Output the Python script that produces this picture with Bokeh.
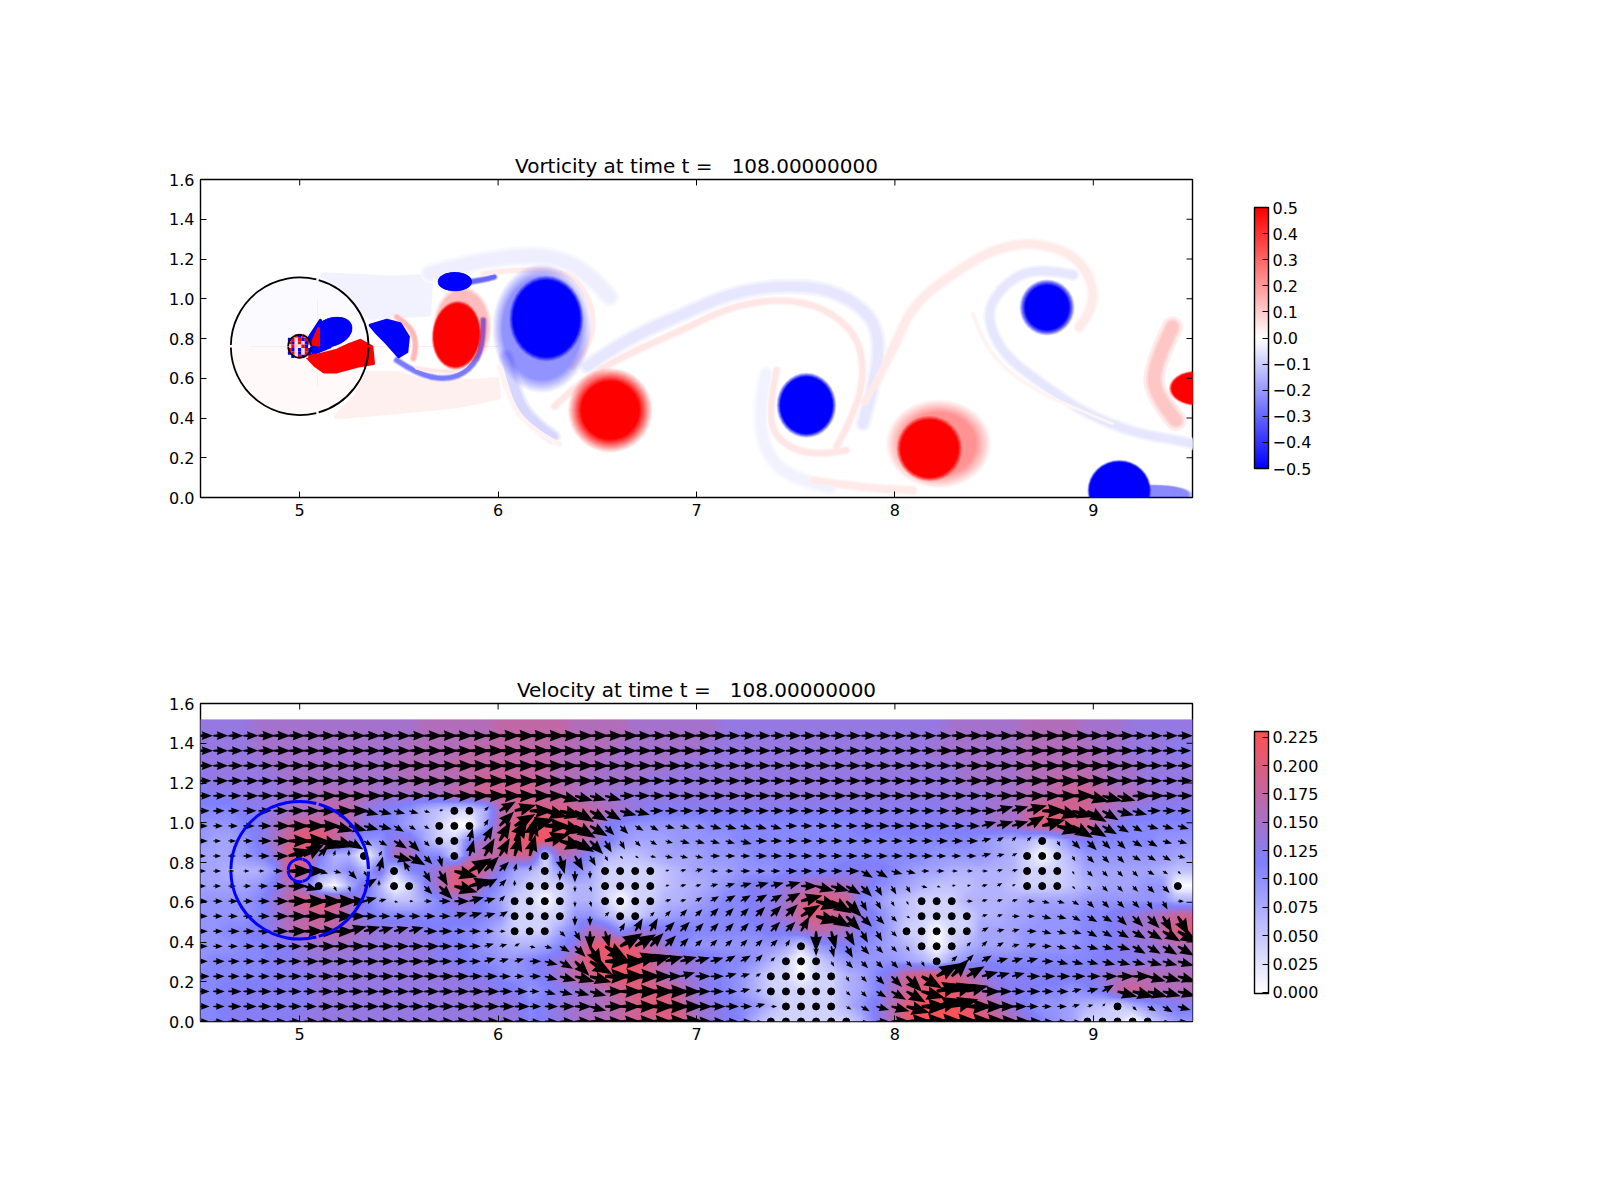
import numpy as np
from bokeh.embed import file_html
from bokeh.layouts import column
from bokeh.models import ColorBar, FixedTicker, LinearColorMapper, Range1d
from bokeh.plotting import figure
from bokeh.resources import INLINE

FONT = "DejaVu Sans"
x_ticks = [5, 6, 7, 8, 9]
y_ticks = [0.0, 0.2, 0.4, 0.6, 0.8, 1.0, 1.2, 1.4, 1.6]
vort_ticks = [-0.5, -0.4, -0.3, -0.2, -0.1, 0.0, 0.1, 0.2, 0.3, 0.4, 0.5]
vel_ticks = [0.0, 0.025, 0.05, 0.075, 0.1, 0.125, 0.15, 0.175, 0.2, 0.225]
vort_title = "Vorticity at time t =\u00a0\u00a0\u00a0108.00000000"
vel_title = "Velocity at time t =\u00a0\u00a0\u00a0108.00000000"

# cylinder and the outer circle around it
circle_x = 5.0
circle_y = 0.761
circle_radii = [0.347, 0.058]

# vortex blobs, drawn in this order: x, y, half width, half height, tilt, peak, fade scale
vortex_x = [6.22, 8.22, 5.82, 8.767, 7.554, 9.31, 6.243, 6.565, 5.79, 5.782, 5.163, 7.554, 8.174, 8.767, 9.131, 9.52]
vortex_y = [0.85, 0.27, 0.86, 0.956, 0.464, 0.015, 0.9, 0.439, 0.817, 1.086, 0.833, 0.464, 0.246, 0.956, 0.036, 0.55]
vortex_rx = [0.2, 0.19, 0.13, 0.125, 0.14, 0.17, 0.168, 0.147, 0.114, 0.084, 0.104, 0.131, 0.145, 0.11, 0.15, 0.125]
vortex_ry = [0.26, 0.16, 0.18, 0.125, 0.15, 0.045, 0.193, 0.147, 0.159, 0.047, 0.07, 0.143, 0.145, 0.113, 0.143, 0.08]
vortex_tilt = [0, 0, 0, 0, 0, 0, 0, 0, -5, 0, 20, 0, 0, 0, 0, 0]
vortex_peak = [-0.2, 0.2, 0.12, -0.1, -0.06, -0.22, -0.5, 0.5, 0.5, -0.5, -0.5, -0.5, 0.5, -0.5, -0.5, 0.5]
vortex_fade = [1.25, 1.4, 1.15, 1.15, 1.12, 1.15, 1.12, 1.45, 1.1, 1.04, 1.03, 1.15, 1.15, 1.25, 1.08, 1.12]

# thin filaments: control points, value and width in px
stream_x = [
    [6.45, 6.63, 6.96, 7.168, 7.419, 7.671, 7.856, 7.923, 7.906, 7.839],
    [6.285, 6.427, 6.628, 6.963, 7.168, 7.419, 7.638, 7.805, 7.847, 7.805, 7.705],
    [7.403, 7.361, 7.403, 7.587, 7.755],
    [7.35, 7.31, 7.352, 7.503, 7.671],
    [7.587, 7.839, 8.09],
    [7.85, 7.99, 8.091, 8.342, 8.51, 8.695, 8.896, 8.997, 8.997, 8.93],
    [8.9, 8.745, 8.594, 8.477, 8.477, 8.56, 8.762, 8.963, 9.215, 9.433, 9.5],
    [8.393, 8.443, 8.594, 8.846, 9.097],
    [9.399, 9.299, 9.316, 9.416],
    [6.042, 6.084, 6.176, 6.276],
    [6.01, 6.06, 6.19, 6.31],
    [5.657, 5.874, 6.126, 6.293, 6.461, 6.561],
    [5.925, 6.126, 6.36, 6.444, 6.486, 6.461, 6.377],
    [5.489, 5.589, 5.74, 5.858, 5.925, 5.925],
    [5.589, 5.74, 5.85, 5.89],
    [5.489, 5.565, 5.59, 5.573],
    [5.86, 5.93, 5.98],
]
stream_y = [
    [0.66, 0.79, 0.935, 1.026, 1.068, 1.051, 0.942, 0.808, 0.607, 0.372],
    [0.459, 0.593, 0.71, 0.859, 0.959, 1.001, 0.959, 0.825, 0.64, 0.439, 0.254],
    [0.64, 0.439, 0.288, 0.204, 0.238],
    [0.62, 0.439, 0.204, 0.087, 0.053],
    [0.087, 0.045, 0.036],
    [0.48, 0.741, 0.976, 1.16, 1.253, 1.286, 1.228, 1.093, 0.942, 0.858],
    [1.12, 1.152, 1.11, 0.976, 0.858, 0.707, 0.556, 0.422, 0.322, 0.288, 0.27],
    [0.926, 0.775, 0.607, 0.472, 0.372],
    [0.858, 0.657, 0.506, 0.389],
    [0.707, 0.506, 0.372, 0.305],
    [0.66, 0.47, 0.33, 0.27],
    [1.127, 1.186, 1.219, 1.21, 1.127, 1.009],
    [1.127, 1.152, 1.135, 1.026, 0.909, 0.758, 0.657],
    [0.691, 0.623, 0.59, 0.64, 0.758, 0.892],
    [0.65, 0.625, 0.66, 0.75],
    [0.909, 0.858, 0.758, 0.699],
    [1.085, 1.095, 1.11],
]
stream_value = [-0.05, 0.05, 0.05, -0.025, 0.04, 0.04, -0.05, 0.02, 0.11,
                -0.08, 0.025, -0.035, 0.04, -0.26, 0.05, 0.14, -0.3]
stream_width = [9, 5, 5, 9, 6, 7, 7, 3, 12, 9, 4, 11, 4, 4, 3, 4, 4]

# pale wakes behind the cylinder and saturated patches next to it
patch_x = [
    [5.121, 5.456, 5.657, 5.648, 5.355, 5.288, 5.221],
    [5.338, 5.489, 5.657, 5.874, 5.992, 6.0, 5.791, 5.456, 5.188, 5.288],
    [5.355, 5.439, 5.506, 5.548, 5.54, 5.499, 5.44, 5.39],
    [5.037, 5.104, 5.154, 5.07],
    [5.028, 5.075, 5.121, 5.188, 5.29, 5.372, 5.364, 5.305, 5.25, 5.188, 5.087],
    [5.062, 5.095, 5.095],
]
patch_y = [
    [1.118, 1.102, 1.11, 0.926, 0.909, 0.959, 1.06],
    [0.623, 0.623, 0.573, 0.582, 0.59, 0.506, 0.464, 0.431, 0.409, 0.506],
    [0.867, 0.892, 0.875, 0.808, 0.733, 0.708, 0.775, 0.825],
    [0.79, 0.892, 0.758, 0.724],
    [0.716, 0.665, 0.632, 0.632, 0.66, 0.674, 0.758, 0.791, 0.77, 0.741, 0.716],
    [0.774, 0.85, 0.766],
]
patch_value = [-0.025, 0.03, -0.5, -0.5, 0.5, 0.5]

# scrambled cells inside the cylinder: r red, b blue, w pale, . nothing
cell_rows = [".wrbrw.", "brwrbrb", "rbwrwbr", "wrwwrbw", "rbwbwrb", "brwbwrb", ".bwrbw."]

# velocity on the quiver grid, one hex digit per point in steps of 0.015, top row first
speed_rows = [
    "88889999999 9999aaaaabb bbbaaaa9999 99888888888 88888899999 aaaa9998888",
    "88889999999 999aaaabbbb bbaaaa99999 98888888888 88888999999 aaaaa998887",
    "88888999999 99aaaabbbbb bbaaa999998 88888888888 88888889999 aaaaaa99888",
    "78888899999 999aaaabccc cbaa9999888 88888888888 88888889999 aabbba99888",
    "77788899aaa a99999bbccc cbba9988888 88888888888 88888888899 aabccbaa988",
    "66677899abb 876532003ac dddcba98777 77777777777 77777788899 bddcca98777",
    "555679bccba 876430004bd eeedb765555 56666666666 77777777899 bdedc976666",
    "544579ceec9 558840079ce eeeca754445 55566666666 66666666543 30367666655",
    "444568dd733 03aa6609bbc c0a96322344 45556666666 66666555543 00035555554",
    "443335dc546 380679deb74 30564000023 44455566667 77654433333 00024444432",
    "444457a8033 83006add853 00033000023 34567789aa9 86543222332 00023444550",
    "555568bddda 74224688640 00033000033 4566779cedc 65320003333 44445555553",
    "555568abcb9 76666677650 00055300345 5666789cdcb 86420000334 455566789ac",
    "556678abbba 98887766530 0046a958877 66666779ba9 76400000444 555566789bd",
    "55566778999 88888776543 3468deeda86 55555540567 65430003444 5555667889a",
    "56666778888 88888776655 678beeeeca9 87665300035 55543045666 66666777889",
    "66666777888 88888887765 679bceeec98 87653000003 468cdedb977 7777789aaaa",
    "66777777888 88888888877 56789acdddb 87653000003 469cdfeca87 766567bcbaa",
    "66777777888 88888888888 67899abcddc 98765300003 57adfffeca8 65543203567",
    "66777778888 88888888888 6789aabccdd 98763000000 37aeffffeca 86540000035",
]
# arrow direction: 0 east, 1-9 up in 15 degree steps, a-i down in 15 degree steps
Z = "00000000000"
angle_rows = [
    f"{Z} {Z} {Z} {Z} {Z} {Z}",
    f"{Z} {Z} {Z} {Z} {Z} {Z}",
    f"{Z} {Z} {Z} {Z} {Z} {Z}",
    f"{Z} {Z} {Z} {Z} {Z} {Z}",
    f"{Z} {Z} 00aaaa00000 {Z} {Z} 0000aaa0000",
    f"{Z} aaaaa100321 0aabbbaa000 {Z} 00000000011 10aabbaa000",
    "000000000aa aabbb000432 10abbccbbaa aaaaaa00000 00000000111 21abbbbbaaa",
    "00000000aab bbbcc005444 51abcddcbaa aaaa0000000 00000000123 30dccccbbaa",
    "00000012356 04abce05445 50edddcbaaa a0000000000 00000000112 000dcccbbba",
    "00000000aac d508dda2335 50fff000011 10000000000 bbaa0000011 000dccccbbc",
    "0000000a0de 2600cca1236 000fe000011 11111110aab cdddaa11122 000ccccccc0",
    f"{Z} 11a00001130 000fe000011 22222221abc dddd0000111 0aabccccdd0",
    f"{Z} 00000011120 000ff300333 33333332abc cccb0000110 0aabbbcccdd",
    "00000000001 11110000000 00cdfe44433 33333334fed ddc00000211 0aaabbbbbbb",
    f"{Z} 00000000112 aabcdb22333 33333340fed cccd0003321 10aaaaabbbb",
    f"{Z} 00000000111 0abcb001111 112233000dc ccccd033211 10aaaaaaaaa",
    f"{Z} {Z} 0aaaa000001 0011200000d ccccb232111 00000000aaa",
    f"{Z} {Z} 0aaaa000000 0001100000c cbbba111000 000112aaaaa",
    f"{Z} {Z} 0000a000000 000010000ab baaa0110000 0001130cbba",
    f"{Z} {Z} {Z} {Z} {Z} {Z}",
]
# grid points (column, row) where the background goes fully white
white_k = [17, 18, 23, 28, 40, 40, 49, 49, 56, 13, 9, 11, 62, 65]
white_r = [6, 6, 11, 11, 15, 16, 13, 14, 8, 10, 10, 8, 19, 10]

GRID_X0, GRID_DX, GRID_DY = 4.488, 0.07597, 0.0757
SPEED_STEP = 0.015
ANGLE_CODE = {"0": 0}
for i, c in enumerate("123456789"):
    ANGLE_CODE[c] = 15 * (i + 1)
for i, c in enumerate("abcdefghi"):
    ANGLE_CODE[c] = -15 * (i + 1)


def ramp(stops, n=256):
    # colormap between hex stops
    rgb = [[int(s[i:i + 2], 16) for i in (1, 3, 5)] for s in stops]
    pos = np.linspace(0, len(stops) - 1, n)
    out = []
    for t in pos:
        i = min(int(t), len(stops) - 2)
        f = t - i
        out.append("#%02x%02x%02x" % tuple(int(round(rgb[i][k] * (1 - f) + rgb[i + 1][k] * f)) for k in range(3)))
    return out


vort_palette = ramp(["#0000ff", "#ffffff", "#ff0000"])
vel_palette = ramp(["#ffffff", "#8080ff", "#ff5050"])


def vort_color(v):
    return vort_palette[int(round((max(-0.5, min(0.5, v)) + 0.5) * 255))]


def make_figure(title, top_border, bottom_border):
    p = figure(width=1400, height=top_border + 318 + bottom_border, frame_width=992, frame_height=318,
               x_range=Range1d(4.5, 9.5), y_range=Range1d(0, 1.6), output_backend="svg",
               toolbar_location=None, title=title, min_border_left=200, min_border_right=208,
               min_border_top=top_border, min_border_bottom=bottom_border)
    p.title.align = "center"
    p.title.text_font = FONT
    p.title.text_font_size = "20px"
    p.title.text_font_style = "normal"
    p.title.text_color = "black"
    p.title.standoff = 3
    p.grid.visible = False
    p.outline_line_color = "black"
    p.outline_line_width = 1.4
    p.xaxis.ticker = FixedTicker(ticks=x_ticks)
    p.yaxis.ticker = FixedTicker(ticks=y_ticks)
    p.yaxis.major_label_overrides = {v: "%.1f" % v for v in y_ticks}
    for ax in p.xaxis + p.yaxis:
        ax.axis_line_color = None
        ax.major_tick_in = 6
        ax.major_tick_out = 0
        ax.major_tick_line_color = "black"
        ax.major_tick_line_width = 1
        ax.minor_tick_line_color = None
        ax.major_label_text_font = FONT
        ax.major_label_text_font_size = "16px"
        ax.major_label_text_color = "black"
        ax.major_label_standoff = 6
    return p


def add_mirror_ticks(p):
    # ticks on the top and right spines too
    n_x, n_y = len(x_ticks), len(y_ticks)
    p.segment(x0=x_ticks, y0=[1.6] * n_x, x1=x_ticks, y1=[1.57] * n_x, line_color="black", line_width=1)
    p.segment(x0=[9.5] * n_y, y0=y_ticks, x1=[9.47] * n_y, y1=y_ticks, line_color="black", line_width=1)


def add_circles(p, color, width):
    gaps = [(1, 74), (76, 179), (181, 284), (286, 359)]
    for r in circle_radii:
        for a0, a1 in gaps:
            p.arc(x=circle_x, y=circle_y, radius=r, start_angle=np.radians(a0), end_angle=np.radians(a1),
                  line_color=color, line_width=width)


def add_colorbar(p, mapper, ticks, labels, y, height):
    bar = ColorBar(color_mapper=mapper, ticker=FixedTicker(ticks=ticks), major_label_overrides=labels,
                   location=(1054, y), width=14, height=height, padding=0, margin=0, label_standoff=4,
                   major_tick_in=6, major_tick_out=0, major_tick_line_color="black", major_tick_line_width=1,
                   bar_line_color="black", bar_line_width=1.4, border_line_color=None, background_fill_color=None,
                   major_label_text_font=FONT, major_label_text_font_size="16px", major_label_text_color="black")
    p.add_layout(bar)


def add_streams(p, scale, value_scale):
    # each filament is a chain of quadratic curves with the read points as controls
    for xs, ys, v, w in zip(stream_x, stream_y, stream_value, stream_width):
        color = vort_color(v * value_scale)
        x0, y0 = [xs[0]], [ys[0]]
        x1, y1, cx, cy = [], [], [], []
        for i in range(1, len(xs) - 1):
            last = i == len(xs) - 2
            ex = xs[i + 1] if last else (xs[i] + xs[i + 1]) / 2
            ey = ys[i + 1] if last else (ys[i] + ys[i + 1]) / 2
            x1.append(ex)
            y1.append(ey)
            cx.append(xs[i])
            cy.append(ys[i])
            x0.append(ex)
            y0.append(ey)
        p.quadratic(x0=x0[:-1], y0=y0[:-1], x1=x1, y1=y1, cx=cx, cy=cy, line_color=color,
                    line_width=w * scale, line_cap="round")


# top panel
top = make_figure(vort_title, 179, 46)
top.wedge(x=circle_x, y=circle_y, radius=0.35, start_angle=0, end_angle=np.pi, color="#fbfbff")
top.wedge(x=circle_x, y=circle_y, radius=0.35, start_angle=np.pi, end_angle=2 * np.pi, color="#fff9f9")
top.segment(x0=[4.75, 5.09], y0=[0.76, 0.56], x1=[6.0, 5.09], y1=[0.76, 1.0], line_color="#ffe8e8", line_width=1)
top.patches(xs=patch_x[:2], ys=patch_y[:2], color=[vort_color(v) for v in patch_value[:2]],
            line_color=[vort_color(v) for v in patch_value[:2]], line_width=6, line_join="round")
add_streams(top, 1.8, 0.35)
add_streams(top, 1.35, 0.7)
add_streams(top, 1.0, 1.0)
for x, y, rx, ry, tilt, peak, fade in zip(vortex_x, vortex_y, vortex_rx, vortex_ry, vortex_tilt, vortex_peak, vortex_fade):
    full = "#ff0000" if peak > 0 else "#0000ff"
    n = 14
    top_level = abs(peak) / 0.5
    done = 0.0
    for m in range(1, n + 1):
        level = top_level * m / n
        s = fade + (1 - fade) * (m - 1) / (n - 1)
        alpha = 1 - (1 - level) / (1 - done) if done < 1 else 1
        done = level
        top.ellipse(x=x, y=y, width=2 * rx * s, height=2 * ry * s, angle=np.radians(tilt),
                    color=full, alpha=alpha, line_color=None)
top.patches(xs=patch_x[2:], ys=patch_y[2:], color=[vort_color(v) for v in patch_value[2:]],
            line_color=[vort_color(v) for v in patch_value[2:]], line_width=3, line_join="round")
cell_color = {"r": "#ff0000", "b": "#0000ff", "w": "#ffd8d8"}
for j, row_cells in enumerate(cell_rows):
    for i, c in enumerate(row_cells):
        if c != ".":
            top.rect(x=circle_x + (i - 3) * 0.017, y=circle_y + (3 - j) * 0.017, width=0.017, height=0.017,
                     color=cell_color[c], line_color=None)
add_circles(top, "black", 1.8)
add_mirror_ticks(top)
vort_mapper = LinearColorMapper(palette=vort_palette, low=-0.5, high=0.5)
add_colorbar(top, vort_mapper, vort_ticks, {v: ("%.1f" % v).replace("-", "\u2212") for v in vort_ticks}, 29, 261)

# bottom panel
codes = np.array([[int(c, 16) for c in r.replace(" ", "")] for r in speed_rows], dtype=float)
speed = codes * SPEED_STEP
angle = np.array([[ANGLE_CODE[c] for c in r.replace(" ", "")] for r in angle_rows])
assert speed.shape == (20, 66) and angle.shape == (20, 66)

bottom = make_figure(vel_title, 160, 46)
vel_mapper = LinearColorMapper(palette=vel_palette, low=-0.001, high=0.23)
# colour calibration: slow points read a little faster against the colorbar than their arrow digit
shown = np.where(codes > 0, speed + 0.03 * (1 - codes / 15), 0.04)
shown[white_r, white_k] = 0.0
field = np.vstack([shown[::-1], shown[0]])
field = np.hstack([field, field[:, -1:]])
# bilinear shading between the read grid values for display, like imshow's interpolation
fine_y = np.linspace(0, field.shape[0] - 1, 8 * field.shape[0])
fine_x = np.linspace(0, field.shape[1] - 1, 8 * field.shape[1])
shade = np.array([np.interp(fine_y, np.arange(field.shape[0]), col) for col in field.T]).T
shade = np.array([np.interp(fine_x, np.arange(field.shape[1]), row) for row in shade])
bottom.image(image=[shade], x=GRID_X0, y=0, dw=66 * GRID_DX, dh=20 * GRID_DY + 0.006, color_mapper=vel_mapper)

arrow_xs, arrow_ys, dot_x, dot_y = [], [], [], []
shape_u = np.array([0, 0.3, 0.24, 1, 0.24, 0.3, 0])
shape_v = np.array([-0.05, -0.09, -0.29, 0, 0.29, 0.09, 0.05])
for r in range(20):
    for k in range(66):
        gx = GRID_X0 + k * GRID_DX
        gy = (19 - r) * GRID_DY
        s = speed[r, k]
        if s < 0.02:
            dot_x.append(gx)
            dot_y.append(gy)
            continue
        L = s * 0.6 + 0.004
        a = np.radians(angle[r, k])
        arrow_xs.append(gx + L * (shape_u * np.cos(a) - shape_v * np.sin(a)))
        arrow_ys.append(gy + L * (shape_u * np.sin(a) + shape_v * np.cos(a)))
bottom.patches(xs=arrow_xs, ys=arrow_ys, color="black", line_color=None)
bottom.scatter(x=dot_x, y=dot_y, size=7, color="black")
add_circles(bottom, "#0000ff", 3)
add_mirror_ticks(bottom)
add_colorbar(bottom, vel_mapper, vel_ticks, {v: "%.3f" % v for v in vel_ticks}, 28, 262)

page = column(top, bottom, spacing=0)
open("out.html", "w").write(file_html(page, INLINE))
